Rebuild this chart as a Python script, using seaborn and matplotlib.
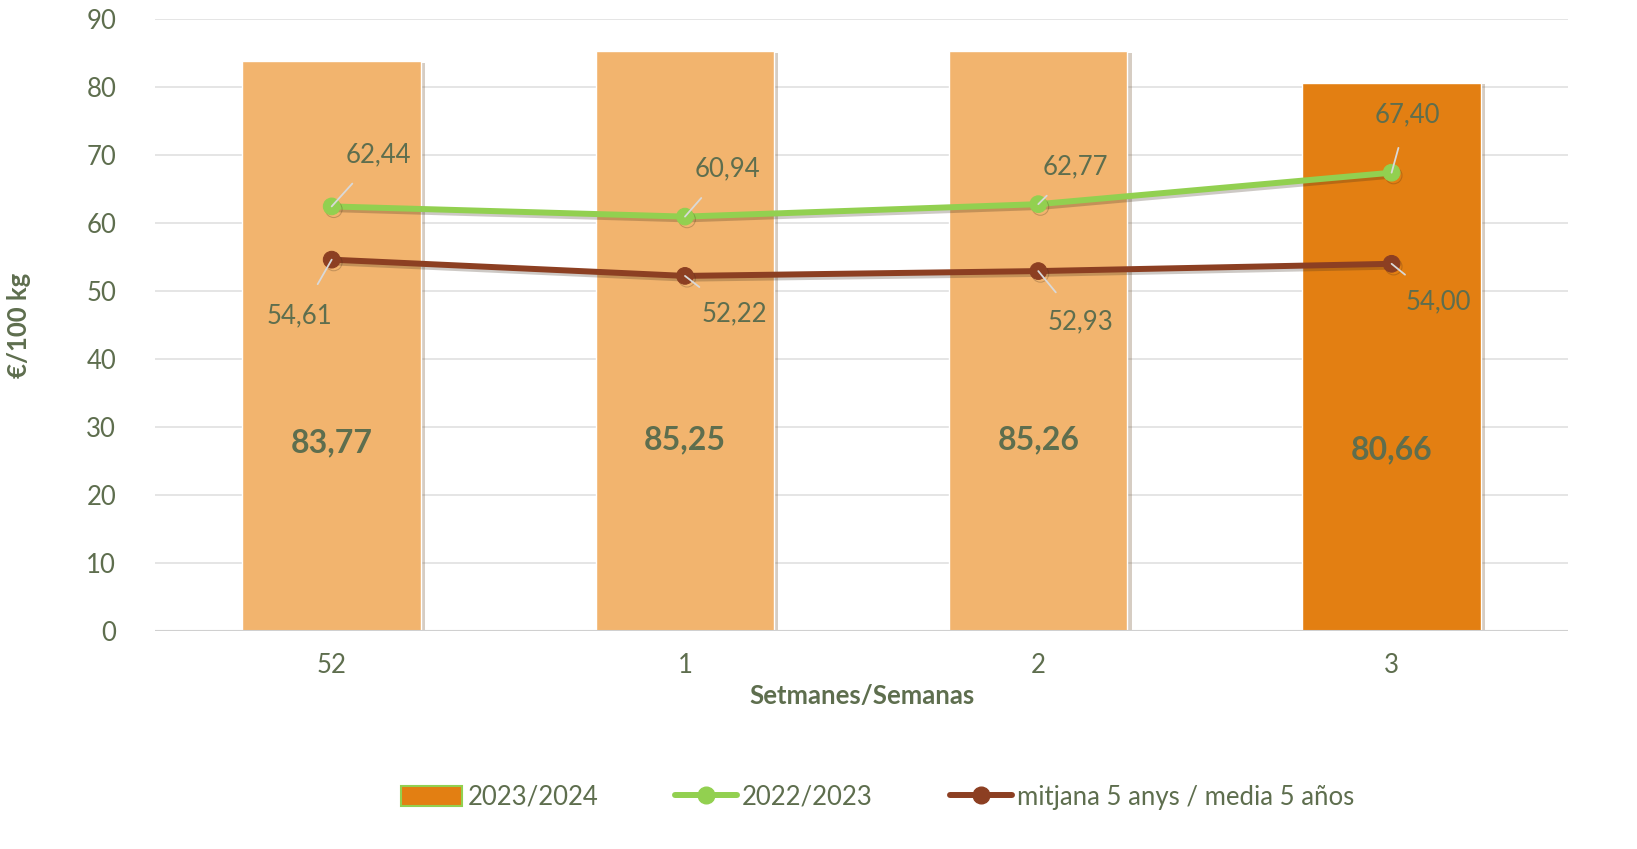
import numpy as np
import pandas as pd
import matplotlib.pyplot as plt
import matplotlib.patheffects as pe
from matplotlib.patches import Patch
from matplotlib.lines import Line2D
import seaborn as sns

# data
weeks = ["52", "1", "2", "3"]
season_2324 = [83.77, 85.25, 85.26, 80.66]
season_2223 = [62.44, 60.94, 62.77, 67.40]
avg_5y = [54.61, 52.22, 52.93, 54.00]
series_names = ["2023/2024", "2022/2023", "mitjana 5 anys / media 5 años"]

# label offsets in pixels (text position relative to point)
off_2223 = [(47, 52), (42, 48), (37, 37), (16, 58)]
off_avg = [(-32, -56), (49, -38), (42, -51), (47, -38)]

txt = "#5E6E4E"
light_bar = "#F2B46E"
dark_bar = "#E37F12"
green = "#92D050"
brown = "#8C3F22"

sns.set_theme(style="white")
plt.rcParams["font.family"] = ["Lato", "DejaVu Sans"]

df = pd.DataFrame({"week": weeks, "pos": np.arange(len(weeks)),
                   "s2324": season_2324, "s2223": season_2223, "avg": avg_5y})

fig = plt.figure(figsize=(16.37, 8.49), dpi=100)
ax = fig.add_axes([0.0947, 0.2568, 0.8633, 0.7208])

bar_cols = [light_bar] * (len(weeks) - 1) + [dark_bar]
sns.barplot(data=df, x="week", y="s2324", hue="week", palette=bar_cols,
            order=weeks, width=0.505, legend=False, ax=ax, saturation=1, zorder=2)
for p in ax.patches:
    p.set_path_effects([pe.SimplePatchShadow(offset=(3, -1), shadow_rgbFace="#7a5a3a", alpha=0.3),
                        pe.Normal()])

shadow = [pe.SimpleLineShadow(offset=(1.5, -2), shadow_color="#3a2a1a", alpha=0.25), pe.Normal()]
sns.lineplot(data=df, x="pos", y="s2223", color=green, lw=4.3, marker="o", ms=12,
             mec=green, ax=ax, zorder=4, path_effects=shadow)
sns.lineplot(data=df, x="pos", y="avg", color=brown, lw=4.3, marker="o", ms=12,
             mec=brown, ax=ax, zorder=4, path_effects=shadow)

# bar value labels
for i, v in enumerate(season_2324):
    ax.text(i, v * 0.33, f"{v:.2f}".replace(".", ","), ha="center", va="center",
            fontsize=23, fontweight="bold", color=txt, zorder=5)

# line labels with leader lines
for vals, offs in [(season_2223, off_2223), (avg_5y, off_avg)]:
    for i, (v, (dx, dy)) in enumerate(zip(vals, offs)):
        ax.annotate(f"{v:.2f}".replace(".", ","), xy=(i, v), xytext=(dx, dy),
                    textcoords="offset pixels", ha="center", va="center",
                    fontsize=18.5, color=txt, zorder=6,
                    arrowprops=dict(arrowstyle="-", color="#D9D9D9", lw=1.3,
                                    shrinkA=13, shrinkB=0))

ax.set_ylim(0, 90)
ax.set_xlim(-0.5, 3.5)
ax.set_yticks(range(0, 91, 10))
ax.yaxis.grid(True, color="#E3E3E3", lw=1.3)
ax.set_axisbelow(True)
ax.axhline(0, color="#D0D0D0", lw=1.5, zorder=3)
sns.despine(ax=ax, left=True, bottom=True)
ax.tick_params(axis="both", length=0, labelsize=18.5, labelcolor=txt)
ax.tick_params(axis="y", pad=28)
ax.tick_params(axis="x", pad=16)
ax.set_xlabel("Setmanes/Semanas", fontsize=18.5, fontweight="bold", color=txt, labelpad=4)
ax.set_ylabel("€/100 kg", fontsize=18.5, fontweight="bold", color=txt, labelpad=40)

handles = [
    Patch(facecolor=dark_bar, edgecolor=green, lw=1.5),
    Line2D([], [], color=green, lw=4.3, marker="o", ms=12),
    Line2D([], [], color=brown, lw=4.3, marker="o", ms=12),
]
fig.legend(handles, series_names, loc="center", bbox_to_anchor=(0.536, 0.061),
           ncol=3, frameon=False, fontsize=18.5, labelcolor=txt,
           handlelength=2.4, handleheight=0.8, columnspacing=3.0, handletextpad=0.2)

fig.savefig("out.png", dpi=100)
